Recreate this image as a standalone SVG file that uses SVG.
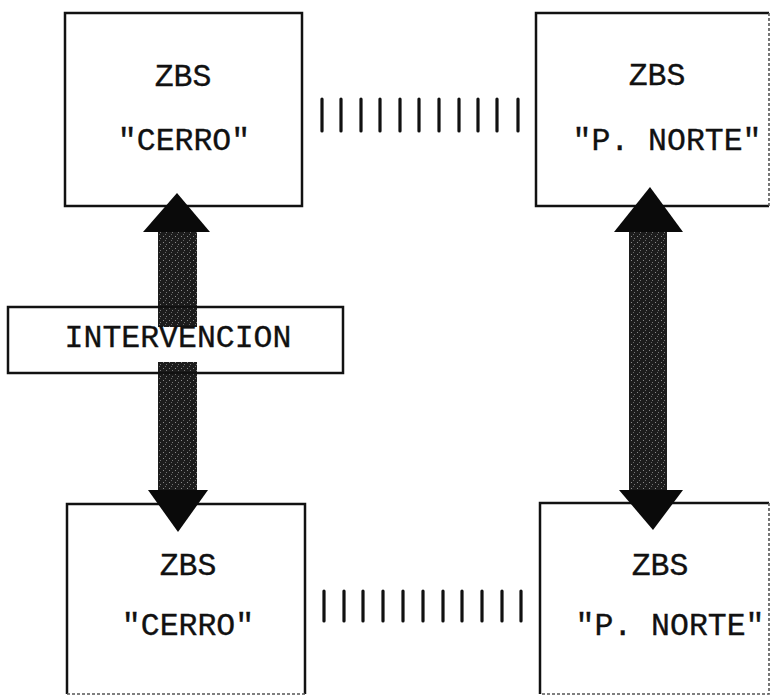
<svg xmlns="http://www.w3.org/2000/svg" width="772" height="699" viewBox="0 0 772 699">
  <style>
    .box { fill: none; stroke: #111; stroke-width: 2.5; }
    .edge { fill: none; stroke: #555; stroke-width: 1.6; stroke-dasharray: 3 2; }
    .lbl { font-family: "Liberation Mono", "DejaVu Sans Mono", monospace; font-size: 31.5px; fill: #111; stroke: #111; stroke-width: 0.35; text-anchor: middle; }
    .tick { stroke: #111; stroke-width: 3.2; stroke-linecap: round; }
    .head { fill: #0a0a0a; }
  </style>
  <defs>
    <pattern id="grain" width="6" height="6" patternUnits="userSpaceOnUse">
      <rect width="6" height="6" fill="#1c1c1c"/>
      <rect x="1" y="2" width="1" height="1" fill="#8a8a8a"/>
      <rect x="4" y="4" width="1" height="1" fill="#777"/>
      <rect x="3" y="0" width="1" height="1" fill="#666"/>
    </pattern>
  </defs>
  <rect width="772" height="699" fill="#fff"/>

  <g id="zbs-cerro-top">
    <rect class="box" x="65" y="13" width="237" height="193"/>
    <text class="lbl" x="183" y="86">ZBS</text>
    <text class="lbl" x="184" y="150">"CERRO"</text>
  </g>

  <g id="zbs-pnorte-top">
    <path class="box" d="M769,13 H536 V206 H769"/>
    <path class="edge" d="M769,13 V206"/>
    <text class="lbl" x="657" y="85">ZBS</text>
    <text class="lbl" x="667" y="150">"P. NORTE"</text>
  </g>

  <g id="zbs-cerro-bottom">
    <path class="box" d="M67,694 V504 H305 V694"/>
    <path class="edge" d="M67,694 H305"/>
    <text class="lbl" x="188" y="575">ZBS</text>
    <text class="lbl" x="188" y="635">"CERRO"</text>
  </g>

  <g id="zbs-pnorte-bottom">
    <path class="box" d="M540,694 V503 H769"/>
    <path class="edge" d="M769,503 V694 H540"/>
    <text class="lbl" x="660" y="575">ZBS</text>
    <text class="lbl" x="670" y="635">"P. NORTE"</text>
  </g>

  <g id="connectors">
    <!-- dotted links between neighbouring zones -->
    <g id="link-top">
      <line class="tick" x1="322" y1="99" x2="322" y2="131"/>
      <line class="tick" x1="341" y1="99" x2="341" y2="131"/>
      <line class="tick" x1="361" y1="99" x2="361" y2="131"/>
      <line class="tick" x1="380" y1="99" x2="380" y2="131"/>
      <line class="tick" x1="400" y1="99" x2="400" y2="131"/>
      <line class="tick" x1="419" y1="99" x2="419" y2="131"/>
      <line class="tick" x1="439" y1="99" x2="439" y2="131"/>
      <line class="tick" x1="459" y1="99" x2="459" y2="131"/>
      <line class="tick" x1="478" y1="99" x2="478" y2="131"/>
      <line class="tick" x1="497" y1="99" x2="497" y2="131"/>
      <line class="tick" x1="518" y1="99" x2="518" y2="131"/>
    </g>
    <g id="link-bottom">
      <line class="tick" x1="324" y1="591" x2="324" y2="621"/>
      <line class="tick" x1="344" y1="591" x2="344" y2="621"/>
      <line class="tick" x1="363" y1="591" x2="363" y2="621"/>
      <line class="tick" x1="383" y1="591" x2="383" y2="621"/>
      <line class="tick" x1="403" y1="591" x2="403" y2="621"/>
      <line class="tick" x1="423" y1="591" x2="423" y2="621"/>
      <line class="tick" x1="443" y1="591" x2="443" y2="621"/>
      <line class="tick" x1="462" y1="591" x2="462" y2="621"/>
      <line class="tick" x1="482" y1="591" x2="482" y2="621"/>
      <line class="tick" x1="502" y1="591" x2="502" y2="621"/>
      <line class="tick" x1="521" y1="591" x2="521" y2="621"/>
    </g>

    <!-- left double arrow, interrupted by the label -->
    <g id="arrow-left">
      <rect x="158" y="231" width="39" height="96" fill="url(#grain)"/>
      <rect x="158" y="362" width="39" height="129" fill="url(#grain)"/>
      <polygon class="head" points="177,193 210,232 143,232"/>
      <polygon class="head" points="148,490 208,490 178,532"/>
    </g>

    <!-- right double arrow -->
    <g id="arrow-right">
      <rect x="629" y="231" width="38" height="260" fill="url(#grain)"/>
      <polygon class="head" points="650,187 683,232 614,232"/>
      <polygon class="head" points="619,490 683,490 653,530"/>
    </g>
  </g>

  <g id="intervencion">
    <rect class="box" x="8" y="307" width="335" height="66"/>
    <text class="lbl" x="178" y="347">INTERVENCION</text>
  </g>
</svg>
